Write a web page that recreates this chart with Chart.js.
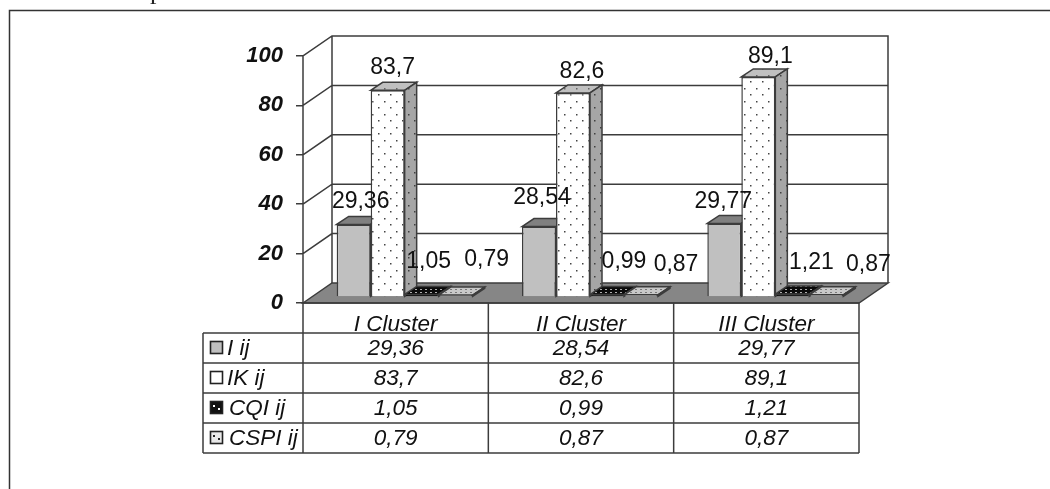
<!DOCTYPE html>
<html>
<head>
<meta charset="utf-8">
<style>
  html, body { margin: 0; padding: 0; background: #fff; overflow: hidden; }
  canvas { display: block; filter: blur(0.35px); }
</style>
<script src="https://cdn.jsdelivr.net/npm/chart.js@4"></script>
</head>
<body>
<canvas id="clusterChart" width="1050" height="489"></canvas>
<script>
const clusters = ["I Cluster", "II Cluster", "III Cluster"];
const seriesNames = ["I ij", "IK ij", "CQI ij", "CSPI ij"];
const iValues = [29.36, 28.54, 29.77];
const ikValues = [83.7, 82.6, 89.1];
const cqiValues = [1.05, 0.99, 1.21];
const cspiValues = [0.79, 0.87, 0.87];
const yTicks = [0, 20, 40, 60, 80, 100];

const LINE = "#3c3c3c";
const LABEL_FONT = "23px 'Liberation Sans'";
const TABLE_FONT = "italic 22.5px 'Liberation Sans'";

// 3d look: bars stand in the middle of the floor
const DEPTH_X = 29, DEPTH_Y = 20;
const BAR_SHIFT_X = 9, BAR_SHIFT_Y = 6;
const BAR_DEPTH_X = 12, BAR_DEPTH_Y = 8;

function dotted(bg, dot) {
    const tile = document.createElement("canvas");
    tile.width = 12;
    tile.height = 13;
    const c = tile.getContext("2d");
    c.fillStyle = bg;
    c.fillRect(0, 0, 12, 13);
    c.fillStyle = dot;
    c.fillRect(3, 3, 1.5, 1.5);
    c.fillRect(9, 9, 1.5, 1.5);
    return c.createPattern(tile, "repeat");
}

function fineDotted(bg, dot) {
    const tile = document.createElement("canvas");
    tile.width = 5;
    tile.height = 3;
    const c = tile.getContext("2d");
    c.fillStyle = bg;
    c.fillRect(0, 0, 5, 3);
    c.fillStyle = dot;
    c.fillRect(1, 1, 2, 1);
    return c.createPattern(tile, "repeat");
}

const barStyles = [
    { front: "#c0c0c0", top: "#808080", side: "#808080", key: "#c0c0c0" },
    { front: dotted("#ffffff", "#444444"), top: dotted("#c0c0c0", "#666666"),
      side: dotted("#a6a6a6", "#404040"), key: "#ffffff" },
    { front: "#000000", top: fineDotted("#0a0a0a", "#b0b0b0"), side: "#222222", key: "#111111" },
    { front: "#bbbbbb", top: fineDotted("#c8c8c8", "#777777"), side: "#3c3c3c", key: "#e8e8e8" }
];

// hand placed data labels of the original, offset from each bar's top middle
const labelNudgeX = [
    [16, 12, 8],
    [14, 18, 21],
    [16, 26, 28],
    [40, 44, 51]
];
const labelNudgeY = [
    [-29, -35, -27.5],
    [-29, -27.5, -26],
    [-39, -39, -37.5],
    [-41.5, -36.5, -36.5]
];

function poly(ctx, pts, fill) {
    ctx.beginPath();
    pts.forEach((p, i) => i ? ctx.lineTo(p[0], p[1]) : ctx.moveTo(p[0], p[1]));
    ctx.closePath();
    ctx.fillStyle = fill;
    ctx.fill();
    ctx.stroke();
}

const depthPlugin = {
    id: "depth",
    beforeDraw(chart) {
        const ctx = chart.ctx;
        ctx.save();
        ctx.strokeStyle = "#333";
        ctx.lineWidth = 1.5;
        ctx.beginPath();
        ctx.moveTo(9.5, 489);
        ctx.lineTo(9.5, 10.5);
        ctx.lineTo(1050, 10.5);
        ctx.stroke();
        ctx.fillStyle = "#222";
        ctx.font = "26px 'Liberation Serif'";
        ctx.textAlign = "left";
        ctx.textBaseline = "alphabetic";
        ctx.fillText("p", 150, -1);
        ctx.restore();
    },
    beforeDatasetsDraw(chart) {
        const ctx = chart.ctx;
        const { left, right } = chart.chartArea;
        const y = chart.scales.y;
        const zero = y.getPixelForValue(0);
        const top = y.getPixelForValue(100);
        ctx.save();
        ctx.strokeStyle = LINE;
        ctx.lineWidth = 1.5;

        // side wall, back wall, floor
        poly(ctx, [[left, zero], [left + DEPTH_X, zero - DEPTH_Y],
                   [right + DEPTH_X, zero - DEPTH_Y], [right, zero]], "#868686");
        ctx.beginPath();
        ctx.moveTo(left, zero);
        ctx.lineTo(left, top);
        ctx.lineTo(left + DEPTH_X, top - DEPTH_Y);
        ctx.lineTo(right + DEPTH_X, top - DEPTH_Y);
        ctx.lineTo(right + DEPTH_X, zero - DEPTH_Y);
        ctx.moveTo(left + DEPTH_X, top - DEPTH_Y);
        ctx.lineTo(left + DEPTH_X, zero - DEPTH_Y);
        yTicks.slice(1, -1).forEach(t => {
            const p = y.getPixelForValue(t);
            ctx.moveTo(left, p);
            ctx.lineTo(left + DEPTH_X, p - DEPTH_Y);
            ctx.lineTo(right + DEPTH_X, p - DEPTH_Y);
        });
        ctx.stroke();

        // tops and sides first, the library then paints the fronts over them
        ctx.translate(BAR_SHIFT_X, -BAR_SHIFT_Y);
        chart.data.datasets.forEach((ds, d) => {
            chart.getDatasetMeta(d).data.forEach(bar => {
                const l = bar.x - bar.width / 2, r = bar.x + bar.width / 2;
                poly(ctx, [[l, bar.y], [l + BAR_DEPTH_X, bar.y - BAR_DEPTH_Y],
                           [r + BAR_DEPTH_X, bar.y - BAR_DEPTH_Y], [r, bar.y]], barStyles[d].top);
                poly(ctx, [[r, bar.y], [r + BAR_DEPTH_X, bar.y - BAR_DEPTH_Y],
                           [r + BAR_DEPTH_X, bar.base - BAR_DEPTH_Y], [r, bar.base]], barStyles[d].side);
            });
        });
        ctx.restore();

        ctx.save();
        ctx.translate(BAR_SHIFT_X, -BAR_SHIFT_Y);
    },
    afterDatasetsDraw(chart) {
        const ctx = chart.ctx;
        ctx.restore();

        ctx.save();
        ctx.font = LABEL_FONT;
        ctx.fillStyle = "#111";
        ctx.textAlign = "center";
        ctx.textBaseline = "middle";
        chart.data.datasets.forEach((ds, d) => {
            chart.getDatasetMeta(d).data.forEach((bar, i) => {
                ctx.fillText(String(ds.data[i]).replace(".", ","),
                    bar.x + labelNudgeX[d][i], bar.y + labelNudgeY[d][i]);
            });
        });
        ctx.restore();
    },
    afterDraw(chart) {
        const ctx = chart.ctx;
        const x = chart.scales.x;
        const { left, right, bottom } = chart.chartArea;
        const rowH = 30;
        const headBottom = bottom + rowH;
        const tableLeft = 203;
        const columns = [iValues, ikValues, cqiValues, cspiValues];
        const colEdge = i => left + (right - left) * i / clusters.length;
        ctx.save();
        ctx.strokeStyle = LINE;
        ctx.lineWidth = 1.5;
        ctx.beginPath();
        ctx.moveTo(left, bottom);
        ctx.lineTo(right, bottom);
        for (let i = 0; i <= clusters.length; i++) {
            ctx.moveTo(colEdge(i), bottom);
            ctx.lineTo(colEdge(i), headBottom + rowH * seriesNames.length);
        }
        for (let r = 0; r <= seriesNames.length; r++) {
            ctx.moveTo(tableLeft, headBottom + rowH * r);
            ctx.lineTo(right, headBottom + rowH * r);
        }
        ctx.moveTo(tableLeft, headBottom);
        ctx.lineTo(tableLeft, headBottom + rowH * seriesNames.length);
        ctx.stroke();

        ctx.font = TABLE_FONT;
        ctx.fillStyle = "#111";
        ctx.textBaseline = "middle";
        seriesNames.forEach((name, r) => {
            const mid = headBottom + rowH * r + rowH / 2;
            ctx.fillStyle = barStyles[r].key;
            ctx.strokeStyle = "#222";
            ctx.lineWidth = 1.6;
            ctx.fillRect(210.5, mid - 6.5, 12, 12);
            ctx.strokeRect(210.5, mid - 6.5, 12, 12);
            if (r > 1) {
                ctx.fillStyle = r === 2 ? "#fff" : "#222";
                ctx.fillRect(213, mid - 3, 2, 2);
                ctx.fillRect(218, mid, 2, 2);
            }
            ctx.fillStyle = "#111";
            ctx.textAlign = "left";
            ctx.fillText(name, r < 2 ? 227 : 229, mid + 1);
            ctx.textAlign = "center";
            columns[r].forEach((v, i) => {
                ctx.fillText(String(v).replace(".", ","), x.getPixelForValue(i), mid + 1);
            });
        });
        ctx.restore();
    }
};

new Chart(document.getElementById("clusterChart"), {
    type: "bar",
    data: {
        labels: clusters,
        datasets: [iValues, ikValues, cqiValues, cspiValues].map((values, d) => ({
            label: seriesNames[d],
            data: values,
            backgroundColor: barStyles[d].front,
            borderColor: LINE,
            borderWidth: 1.5,
            categoryPercentage: 0.734,
            barPercentage: 1,
            clip: false
        }))
    },
    options: {
        responsive: false,
        animation: false,
        layout: { padding: { left: 0, top: 56, right: 191, bottom: 156 } },
        plugins: { legend: { display: false }, title: { display: false }, tooltip: { enabled: false } },
        scales: {
            x: {
                afterFit: s => { s.height = 30; },
                grid: { display: false },
                border: { display: false },
                ticks: { color: "#111", padding: 0, font: { family: "'Liberation Sans'", size: 22.5, style: "italic" } }
            },
            y: {
                min: 0,
                max: 100,
                afterBuildTicks: s => { s.ticks = yTicks.map(v => ({ value: v })); },
                afterFit: s => { s.width = 303; },
                grid: { drawOnChartArea: false, tickLength: 7, color: LINE, lineWidth: 1.5 },
                border: { display: false },
                ticks: { color: "#111", padding: 13, font: { family: "'Liberation Sans'", size: 22, style: "italic", weight: "bold" } }
            }
        }
    },
    plugins: [depthPlugin]
});
</script>
</body>
</html>
